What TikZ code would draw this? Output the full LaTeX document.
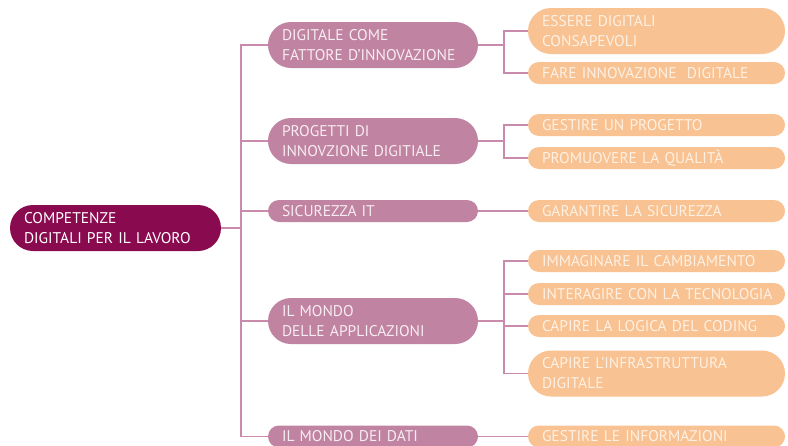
\documentclass[tikz,border=0pt]{standalone}
\usepackage{fontspec}
\setmainfont{PT Sans}
\definecolor{rootc}{HTML}{8A0A50}
\definecolor{levone}{HTML}{C084A2}
\definecolor{levtwo}{HTML}{F8C292}
\definecolor{linec}{HTML}{C98AAB}
\definecolor{txtone}{HTML}{F8ECF2}
\definecolor{txttwo}{HTML}{FEF1E4}
\begin{document}
\begin{tikzpicture}[x=1pt,y=-1pt,
  box/.style={rectangle,inner xsep=14pt,inner ysep=0pt,align=left,
    font=\fontsize{15.5}{20}\selectfont},
  rootbox/.style={box,fill=rootc,text=white,minimum width=211pt,text width=183pt},
  onebox/.style={box,fill=levone,text=txtone,minimum width=210pt,text width=182pt},
  twobox/.style={box,fill=levtwo,text=txttwo,minimum width=257pt,text width=229pt},
  tall/.style={minimum height=46pt,rounded corners=23pt},
  short/.style={minimum height=22pt,rounded corners=11pt},
  conn/.style={draw=linec,line width=1.4pt}]
\useasboundingbox (0,0) rectangle (788,445);
\clip (0,0) rectangle (788,445);
\coordinate (t) at (241,228);
\coordinate (k) at (504,0);
% root
\node[rootbox,tall] (root) at (115.5,228) {COMPETENZE\\DIGITALI PER IL LAVORO};
% level one
\node[onebox,tall]  (a) at (373,45)  {DIGITALE COME\\FATTORE D’INNOVAZIONE};
\node[onebox,tall]  (b) at (373,141) {PROGETTI DI\\INNOVZIONE DIGITIALE};
\node[onebox,short] (c) at (373,211) {SICUREZZA IT};
\node[onebox,tall]  (d) at (373,321) {IL MONDO\\DELLE APPLICAZIONI};
\node[onebox,short] (e) at (373,436.5) {IL MONDO DEI DATI};
% level two
\node[twobox,tall]  (a1) at (656.5,31)  {ESSERE DIGITALI\\CONSAPEVOLI};
\node[twobox,short] (a2) at (656.5,73)  {FARE INNOVAZIONE~ DIGITALE};
\node[twobox,short] (b1) at (656.5,125) {GESTIRE UN PROGETTO};
\node[twobox,short] (b2) at (656.5,158) {PROMUOVERE LA QUALITÀ};
\node[twobox,short] (c1) at (656.5,211) {GARANTIRE LA SICUREZZA};
\node[twobox,short] (d1) at (656.5,261) {IMMAGINARE IL CAMBIAMENTO};
\node[twobox,short] (d2) at (656.5,294) {\mbox{INTERAGIRE CON LA TECNOLOGIA}};
\node[twobox,short] (d3) at (656.5,326) {CAPIRE LA LOGICA DEL CODING};
\node[twobox,tall]  (d4) at (656.5,373.5) {CAPIRE L’INFRASTRUTTURA\\DIGITALE};
\node[twobox,short] (e1) at (656.5,436.5) {GESTIRE LE INFORMAZIONI};
% trunk
\draw[conn] (root.east) -- (t);
\draw[conn] (a.west) -| (t) |- (e.west);
\draw[conn] (b.west) -- (b.west -| t);
\draw[conn] (c.west) -- (c.west -| t);
\draw[conn] (d.west) -- (d.west -| t);
% right brackets
\draw[conn] (a.east) -- (a.east -| k);
\draw[conn] (a1.west) -| (k |- a1.west) |- (a2.west);
\draw[conn] (b.east) -- (b.east -| k);
\draw[conn] (b1.west) -| (k |- b1.west) |- (b2.west);
\draw[conn] (c.east) -- (c1.west);
\draw[conn] (d.east) -- (d.east -| k);
\draw[conn] (d1.west) -| (k |- d1.west) |- (d4.west);
\draw[conn] (d2.west) -- (d2.west -| k);
\draw[conn] (d3.west) -- (d3.west -| k);
\draw[conn] (e.east) -- (e1.west);
\end{tikzpicture}
\end{document}
